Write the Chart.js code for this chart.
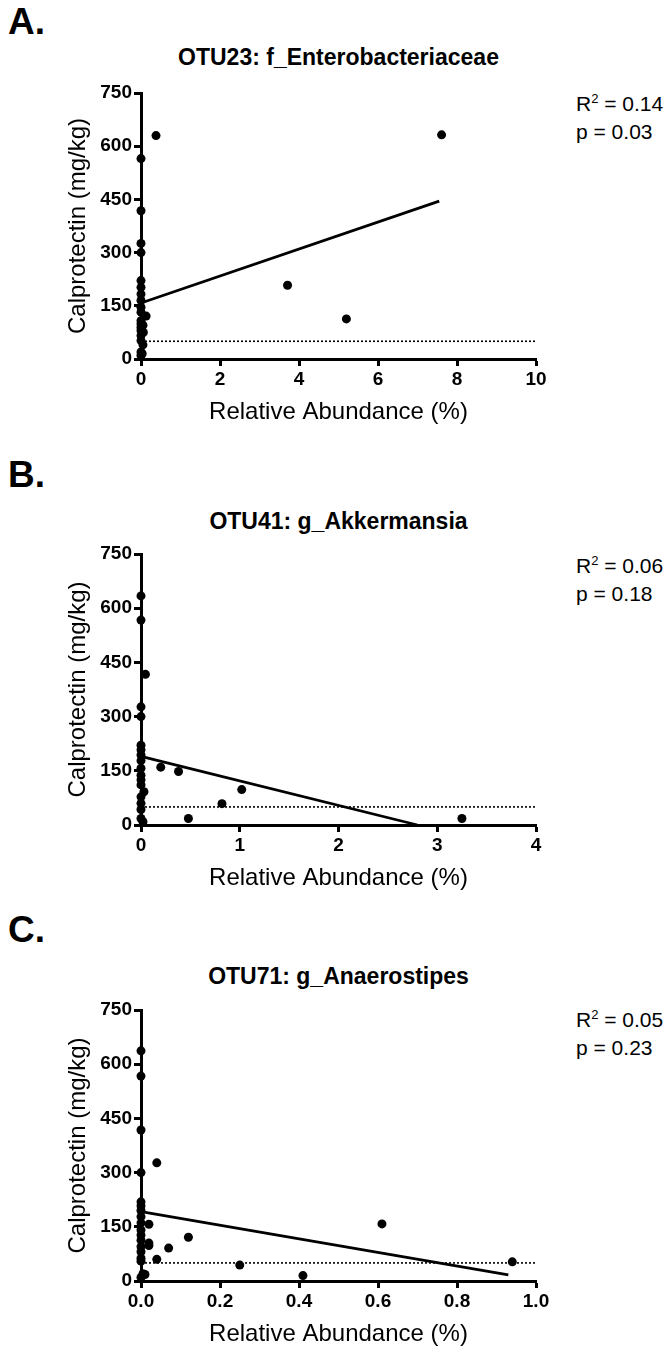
<!DOCTYPE html>
<html>
<head>
<meta charset="utf-8">
<script src="https://cdn.jsdelivr.net/npm/chart.js@4.4.1/dist/chart.umd.min.js"></script>
<style>
  html, body { margin: 0; padding: 0; background: #fff; }
  body { width: 666px; height: 1357px; position: relative; overflow: hidden; font-family: "Liberation Sans", Arial, sans-serif; color: #000; }
  canvas { position: absolute; left: 0; }
  .t { position: absolute; line-height: 1; white-space: nowrap; transform: translateY(-50%); }
  .letter { font-weight: bold; font-size: 37px; left: 8px; }
  .title { font-weight: bold; font-size: 23px; left: 0; width: 677px; text-align: center; }
  .stat { font-size: 21px; left: 576px; }
  .stat sup { font-size: 13px; vertical-align: 0; position: relative; top: -8px; }
</style>
</head>
<body>
<script>
// ---- Panel A: OTU23 f_Enterobacteriaceae ----
const aX = [0, 0, 0, 0, 0, 0, 0, 0, 0, 0, 0, 0, 0, 0, 0, 0, 0, 0, 0.05, 0.06, 0.05, 0.03, 0.13, 0.38, 3.71, 5.2, 7.61];
const aY = [565, 418, 326, 300, 221, 202, 183, 165, 146, 132, 108, 99, 89, 80, 66, 52, 20, 10, 95, 75, 40, 15, 121, 630, 208, 113, 632];
const aFitX = [0, 7.55];
const aFitY = [158, 445];
const aTicksX = [0, 2, 4, 6, 8, 10];

// ---- Panel B: OTU41 g_Akkermansia ----
const bX = [0, 0, 0.045, 0, 0, 0, 0, 0, 0, 0, 0, 0, 0, 0.03, 0, 0, 0, 0, 0.02, 0.2, 0.38, 1.02, 0.82, 0.48, 3.25];
const bY = [634, 567, 417, 327, 300, 221, 208, 194, 178, 157, 138, 125, 111, 92, 78, 60, 43, 18, 9, 160, 148, 98, 59, 18, 18];
const bFitX = [0, 2.8];
const bFitY = [190, 0];
const bTicksX = [0, 1, 2, 3, 4];

// ---- Panel C: OTU71 g_Anaerostipes ----
const cX = [0, 0, 0, 0, 0, 0, 0, 0, 0, 0, 0, 0, 0, 0, 0, 0, 0.005, 0.01, 0, 0.04, 0.02, 0.02, 0.02, 0.07, 0.12, 0.04, 0.25, 0.61, 0.41, 0.94];
const cY = [637, 567, 418, 300, 219, 208, 195, 178, 161, 141, 127, 113, 95, 81, 63, 55, 20, 18, 10, 327, 157, 105, 98, 91, 121, 60, 44, 158, 15, 53];
const cFitX = [0, 0.93];
const cFitY = [192, 17];
const cTicksX = [0, 0.2, 0.4, 0.6, 0.8, 1.0];

const yTicks = [0, 150, 300, 450, 600, 750];
const cutoff = 50;

const panels = [
  { letter: 'A.', title: 'OTU23: f_Enterobacteriaceae', r2: '0.14', p: '0.03', xs: aX, ys: aY, fx: aFitX, fy: aFitY, ticks: aTicksX, dec: 0,
    plotTop: 93, plotBottom: 359, letterY: 21, titleY: 57, r2Y: 103, pY: 131 },
  { letter: 'B.', title: 'OTU41: g_Akkermansia', r2: '0.06', p: '0.18', xs: bX, ys: bY, fx: bFitX, fy: bFitY, ticks: bTicksX, dec: 0,
    plotTop: 554, plotBottom: 825, letterY: 474, titleY: 521, r2Y: 565, pY: 593 },
  { letter: 'C.', title: 'OTU71: g_Anaerostipes', r2: '0.05', p: '0.23', xs: cX, ys: cY, fx: cFitX, fy: cFitY, ticks: cTicksX, dec: 1,
    plotTop: 1010, plotBottom: 1281, letterY: 929, titleY: 976, r2Y: 1019, pY: 1047 }
];

const TOPPAD = 20, BOTTOM = 75, PLOT_LEFT = 141, PLOT_RIGHT = 536, W = 666;

function addText(cls, html, y) {
  const d = document.createElement('div');
  d.className = 't ' + cls;
  d.innerHTML = html;
  d.style.top = y + 'px';
  document.body.appendChild(d);
}

panels.forEach(pn => {
  addText('letter', pn.letter, pn.letterY);
  addText('title', pn.title, pn.titleY);
  addText('stat', 'R<sup>2</sup> = ' + pn.r2, pn.r2Y);
  addText('stat', 'p = ' + pn.p, pn.pY);

  const plotH = pn.plotBottom - pn.plotTop;
  const H = TOPPAD + plotH + BOTTOM;
  const cv = document.createElement('canvas');
  cv.width = W; cv.height = H;
  cv.style.width = W + 'px'; cv.style.height = H + 'px';
  cv.style.top = (pn.plotTop - TOPPAD) + 'px';
  document.body.appendChild(cv);

  const xmin = pn.ticks[0], xmax = pn.ticks[pn.ticks.length - 1];
  const pts = pn.xs.map((x, i) => ({ x: x, y: pn.ys[i] }));
  const fit = pn.fx.map((x, i) => ({ x: x, y: pn.fy[i] }));
  const dotted = [{ x: xmin, y: cutoff }, { x: xmax, y: cutoff }];

  new Chart(cv.getContext('2d'), {
    type: 'scatter',
    data: {
      datasets: [
        { data: dotted, showLine: true, borderColor: '#000', borderWidth: 1.6, borderDash: [2, 2], pointRadius: 0, clip: false, order: 3 },
        { data: fit, showLine: true, borderColor: '#000', borderWidth: 2.8, pointRadius: 0, clip: false, order: 2 },
        { data: pts, backgroundColor: '#000', borderColor: '#000', borderWidth: 0, pointRadius: 4.5, clip: false, order: 1 }
      ]
    },
    options: {
      responsive: false,
      animation: false,
      devicePixelRatio: 1,
      layout: { padding: { top: TOPPAD, right: W - PLOT_RIGHT, left: 0, bottom: 0 } },
      plugins: { legend: { display: false }, tooltip: { enabled: false }, title: { display: false } },
      scales: {
        x: {
          type: 'linear', min: xmin, max: xmax,
          afterBuildTicks: s => { s.ticks = pn.ticks.map(v => ({ value: v })); },
          afterFit: s => { s.height = BOTTOM; },
          ticks: { color: '#000', font: { family: 'Liberation Sans', size: 19, weight: 'bold' }, padding: 2,
                   callback: v => Number(v).toFixed(pn.dec), maxRotation: 0, autoSkip: false },
          grid: { display: true, drawOnChartArea: false, drawTicks: true, tickLength: 7, tickColor: '#000', tickWidth: 3, color: '#000' },
          border: { display: true, color: '#000', width: 3 },
          title: { display: true, text: 'Relative Abundance (%)', color: '#000', font: { family: 'Liberation Sans', size: 24 }, padding: { top: 0, bottom: 7 } }
        },
        y: {
          type: 'linear', min: 0, max: 750,
          afterBuildTicks: s => { s.ticks = yTicks.map(v => ({ value: v })); },
          afterFit: s => { s.width = PLOT_LEFT; },
          ticks: { color: '#000', font: { family: 'Liberation Sans', size: 19, weight: 'bold' }, padding: 2 },
          grid: { display: true, drawOnChartArea: false, drawTicks: true, tickLength: 7, tickColor: '#000', tickWidth: 3, color: '#000' },
          border: { display: true, color: '#000', width: 3 },
          title: { display: true, text: 'Calprotectin (mg/kg)', color: '#000', font: { family: 'Liberation Sans', size: 24 }, padding: { top: 64, bottom: 0 } }
        }
      }
    }
  });
});
</script>
</body>
</html>
